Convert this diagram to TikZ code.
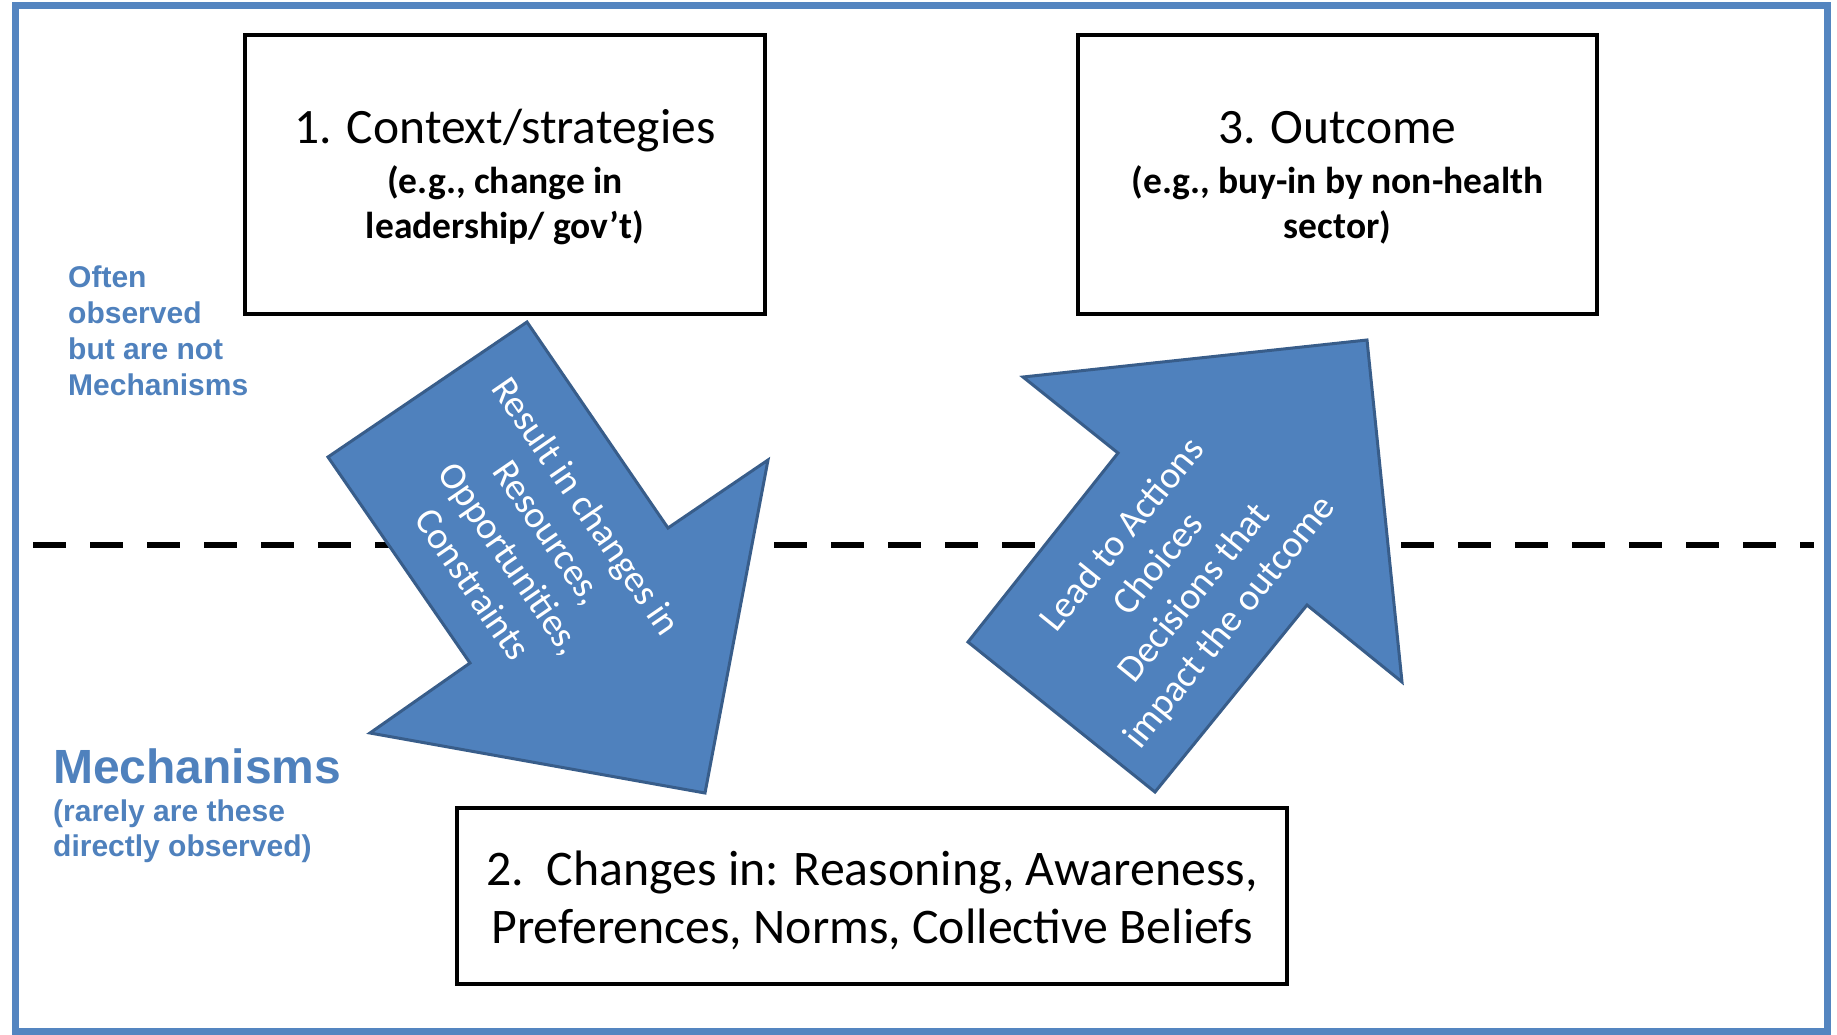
\documentclass[tikz,border=0pt]{standalone}
\usepackage{fontspec}
\setmainfont{Carlito}
\newfontfamily\arialfont{Liberation Sans}
\definecolor{ablue}{RGB}{79,129,189}
\definecolor{ablueline}{RGB}{56,93,138}
\definecolor{frameblue}{RGB}{84,133,192}
\definecolor{sideblue}{RGB}{79,129,189}
\tikzset{
  box/.style={draw=black, line width=4pt, fill=white, rectangle, inner sep=0pt},
  boxtitle/.style={anchor=base, inner sep=0pt, font=\fontsize{49.5}{50}\selectfont},
  boxsub/.style={anchor=base, inner sep=0pt, font=\fontsize{37.5}{45}\selectfont\bfseries},
  boxmain/.style={anchor=base, inner sep=0pt, font=\fontsize{49.8}{58}\selectfont},
  blockarrow/.style={fill=ablue, draw=ablueline, line width=3pt, line join=miter},
  arrowtext/.style={align=center, inner sep=0pt, text=white, font=\fontsize{38}{46}\selectfont},
  sidetext/.style={anchor=base west, inner sep=0pt, text=sideblue, font=\arialfont\bfseries\fontsize{30}{36}\selectfont},
  sidebig/.style={anchor=base west, inner sep=0pt, text=sideblue, font=\arialfont\bfseries\fontsize{48}{50}\selectfont},
}
\begin{document}
\begin{tikzpicture}[x=1pt,y=-1pt]
\useasboundingbox (0,0) rectangle (1837,1034);
\fill[white] (0,0) rectangle (1837,1034);
% outer frame
\draw[frameblue, line width=7pt] (15,5.5) rectangle (1827,1031);
% dashed separator
\coordinate (dl) at (33,545);
\coordinate (dr) at (1814,545);
\draw[line width=6pt, dash pattern=on 33pt off 24pt] (dl) -- (dr);
% boxes
\node[box, minimum width=520pt, minimum height=279pt] (b1) at (505,174.5) {};
\node[box, minimum width=519pt, minimum height=279pt] (b3) at (1337.5,174.5) {};
\node[box, minimum width=830pt, minimum height=176pt] (b2) at (872,896) {};
% box texts
\node[boxtitle] (t1a) at (505,143) {1. Context/strategies};
\node[boxsub] (t1b) at (505,193) {(e.g., change in};
\node[boxsub] (t1c) at (505,238) {leadership/ gov’t)};
\node[boxtitle] (t3a) at (1337.5,143) {3. Outcome};
\node[boxsub] (t3b) at (1337.5,193) {(e.g., buy-in by non-health};
\node[boxsub] (t3c) at (1337.5,238) {sector)};
\node[boxmain] (t2a) at (872,885) {2.\ \ Changes in: Reasoning, Awareness,};
\node[boxmain] (t2b) at (872,943) {Preferences, Norms, Collective Beliefs};
% block arrows
\draw[blockarrow] (527,322) -- (668,528) -- (768,460) -- (705,793) -- (370,733) -- (470,663) -- (328,457) -- cycle;
\draw[blockarrow] (968,642) -- (1118,453) -- (1023,377) -- (1367,340) -- (1402,682) -- (1307,605) -- (1155,792) -- cycle;
\node[arrowtext, rotate=-55.5] (a1) at (530,545) {Result in changes in\\Resources,\\Opportunities,\\Constraints};
\node[arrowtext, rotate=51] (a2) at (1177,579) {Lead to Actions\\Choices\\Decisions that\\impact the outcome};
% side labels
\node[sidetext] (s1) at (68,287) {Often};
\node[sidetext] (s2) at (68,323) {observed};
\node[sidetext] (s3) at (68,359) {but are not};
\node[sidetext] (s4) at (68,395) {Mechanisms};
\node[sidebig] (m1) at (53,783) {Mechanisms};
\node[sidetext] (m2) at (53,821) {(rarely are these};
\node[sidetext] (m3) at (53,856) {directly observed)};
\end{tikzpicture}
\end{document}
